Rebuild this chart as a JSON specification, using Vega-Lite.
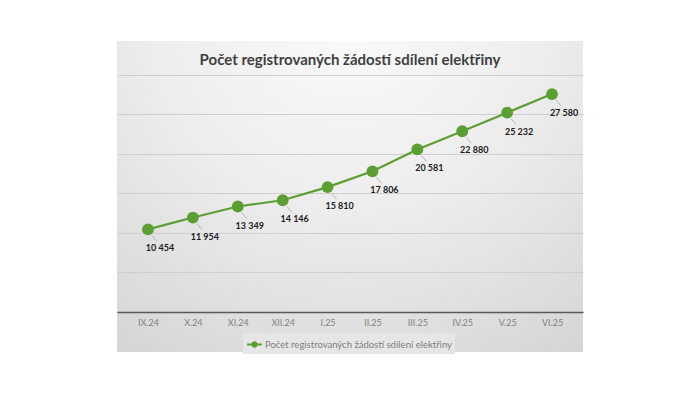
{
  "$schema": "https://vega.github.io/schema/vega-lite/v6.json",
  "width": 466,
  "height": 311,
  "autosize": {"type": "none"},
  "padding": {"left": 117, "top": 41, "right": 117, "bottom": 41},
  "background": "white",
  "config": {
    "locale": {"number": {"decimal": ",", "thousands": " ", "grouping": [3], "currency": ["", " Kč"]}},
    "font": "Lato",
    "view": {
      "stroke": null,
      "fill": {
        "gradient": "radial",
        "x1": 0.5, "y1": 0.1, "r1": 0,
        "x2": 0.5, "y2": 0.1, "r2": 0.9,
        "stops": [
          {"offset": 0, "color": "#fbfbfb"},
          {"offset": 0.5, "color": "#ececec"},
          {"offset": 1, "color": "#d4d4d4"}
        ]
      }
    }
  },
  "title": {
    "text": "Počet registrovaných žádostí sdílení elektřiny",
    "orient": "top",
    "anchor": "middle",
    "offset": -27,
    "font": "Lato",
    "fontSize": 15,
    "fontWeight": "bold",
    "color": "#404040"
  },
  "data": {
    "values": [
      {"mesic": "IX.24", "pocet": 10454},
      {"mesic": "X.24", "pocet": 11954},
      {"mesic": "XI.24", "pocet": 13349},
      {"mesic": "XII.24", "pocet": 14146},
      {"mesic": "I.25", "pocet": 15810},
      {"mesic": "II.25", "pocet": 17806},
      {"mesic": "III.25", "pocet": 20581},
      {"mesic": "IV.25", "pocet": 22880},
      {"mesic": "V.25", "pocet": 25232},
      {"mesic": "VI.25", "pocet": 27580}
    ]
  },
  "encoding": {
    "x": {
      "field": "mesic",
      "type": "ordinal",
      "sort": null,
      "scale": {"type": "point", "padding": 0.69},
      "axis": {
        "title": null,
        "orient": "bottom",
        "offset": -40,
        "labelAngle": 0,
        "labelFont": "Lato",
        "labelFontSize": 9,
        "labelColor": "#7f7f7f",
        "labelPadding": 6,
        "ticks": false,
        "domainColor": "#595959",
        "domainWidth": 1.3,
        "grid": false
      }
    },
    "y": {
      "field": "pocet",
      "type": "quantitative",
      "scale": {"domain": [-5063, 34300], "nice": false, "zero": false},
      "axis": {
        "title": null,
        "values": [5000, 10000, 15000, 20000, 25000, 30000],
        "labels": false,
        "ticks": false,
        "domain": false,
        "grid": true,
        "gridColor": "#cfcfcf",
        "gridWidth": 1
      }
    }
  },
  "layer": [
    {
      "mark": {"type": "line", "strokeWidth": 2.2},
      "encoding": {
        "color": {
          "datum": "Počet registrovaných žádostí sdílení elektřiny",
          "type": "nominal",
          "scale": {"range": ["#5b9f32"]},
          "legend": {
            "title": null,
            "orient": "none",
            "legendX": 126,
            "legendY": 292,
            "fillColor": "#e6e6e6",
            "padding": 3,
            "labelFont": "Lato",
            "labelFontSize": 9.5,
            "labelLimit": 400,
            "labelColor": "#7f7f7f",
            "symbolType": "M -1 0 L -0.3 0 M 0.3 0 L 1 0 M -0.3 0 A 0.3 0.3 0 1 1 0.3 0 A 0.3 0.3 0 1 1 -0.3 0",
            "symbolSize": 220,
            "symbolStrokeWidth": 2,
            "symbolFillColor": "#5b9f32",
            "symbolStrokeColor": "#5b9f32",
            "labelOffset": 2
          }
        }
      }
    },
    {
      "mark": {"type": "rule", "color": "#a6a6a6", "strokeWidth": 0.8, "xOffset": 4, "yOffset": 6, "x2Offset": 9, "y2Offset": 12},
      "encoding": {
        "x2": {"field": "mesic"},
        "y2": {"field": "pocet"}
      }
    },
    {
      "mark": {"type": "circle", "size": 140, "opacity": 1, "color": "#5b9f32"}
    },
    {
      "mark": {"type": "text", "dx": 12, "dy": 19, "font": "Lato", "fontSize": 9, "fontWeight": "bold", "color": "#1a1a1a", "align": "center", "baseline": "middle"},
      "encoding": {
        "text": {"field": "pocet", "type": "quantitative", "format": ",d"}
      }
    }
  ]
}
